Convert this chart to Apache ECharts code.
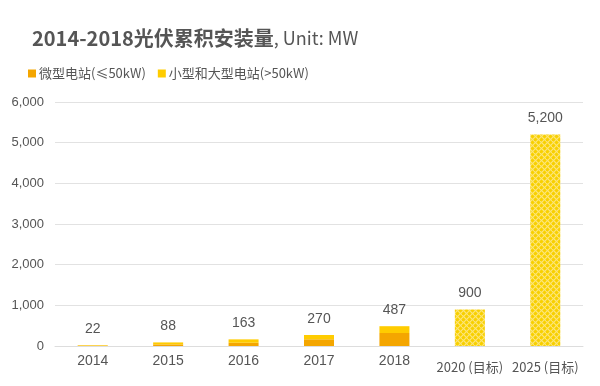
<!DOCTYPE html>
<html><head><meta charset="utf-8">
<script src="https://cdn.jsdelivr.net/npm/echarts@6/dist/echarts.min.js"></script>
<style>html,body{margin:0;padding:0;background:#fff}#c{width:600px;height:386px}</style>
</head><body><div id="c"></div>
<script>
const categories = ['2014','2015','2016','2017','2018','2020 (目标)','2025 (目标)'];
const microValues = [10, 40, 80, 165, 320, 0, 0];
const largeValues = [12, 48, 83, 105, 167, 900, 5200];
const totalLabels = ['22','88','163','270','487','900','5,200'];
const yTicks = [0, 1000, 2000, 3000, 4000, 5000, 6000];
const targetFlags = [false, false, false, false, false, true, true];

// pattern for target bars
const pc = document.createElement('canvas');
pc.width = 6; pc.height = 6;
const g = pc.getContext('2d');
g.fillStyle = '#FCE57A'; g.fillRect(0,0,6,6);
g.fillStyle = '#F8D000';
function dia(cx, cy){ g.beginPath(); g.moveTo(cx, cy-2.2); g.lineTo(cx+2.2, cy); g.lineTo(cx, cy+2.2); g.lineTo(cx-2.2, cy); g.closePath(); g.fill(); }
dia(1.5,1.5); dia(4.5,4.5); dia(1.5,7.5); dia(7.5,1.5); dia(-1.5,4.5); dia(4.5,-1.5);
const patternColor = { image: pc, repeat: 'repeat' };

const ORANGE = '#F4A600', YELLOW = '#FFCC00';

const chart = echarts.init(document.getElementById('c'), null, {renderer:'canvas'});
chart.setOption({
  animation: false,
  title: {
    text: '{b|2014-2018光伏累积安装量}{n|, Unit: MW}',
    left: 27, top: 23,
    textStyle: { rich: {
      b: { fontSize: 20, fontWeight: 'bold', color: '#555', fontFamily: 'Noto Sans CJK SC' },
      n: { fontSize: 18, fontWeight: 'normal', color: '#555', fontFamily: 'Noto Sans CJK SC', padding: [1,0,0,0] }
    } }
  },
  legend: {
    left: 23, top: 62, itemWidth: 8, itemHeight: 8, itemGap: 12,
    icon: 'rect',
    textStyle: { fontSize: 13, color: '#555', fontFamily: 'Noto Sans CJK SC', padding: [0,0,0,-2] },
    data: [{name: '微型电站(≤50kW)', itemStyle: {color: ORANGE}}, {name: '小型和大型电站(>50kW)', itemStyle: {color: YELLOW}}]
  },
  grid: { left: 55, right: 17, top: 102, bottom: 40 },
  xAxis: {
    type: 'category', data: categories,
    axisLine: { lineStyle: { color: '#ddd', width: 1 } },
    axisTick: { show: false },
    axisLabel: {
      color: '#555', fontSize: 14, fontFamily: 'Liberation Sans', margin: 8, interval: 0,
      formatter: function(v, i){ return targetFlags[i] ? '{t|' + v + '}' : v; },
      rich: { t: { fontSize: 13, color: '#555', fontFamily: 'Noto Sans CJK SC', padding: [7,0,0,0] } }
    }
  },
  yAxis: {
    type: 'value', min: 0, max: 6000, interval: 1000,
    axisLine: { show: false }, axisTick: { show: false },
    splitLine: { lineStyle: { color: '#e2e2e2', width: 1 } },
    axisLabel: { color: '#555', fontSize: 13, fontFamily: 'Liberation Sans', margin: 11,
      formatter: function(v){ return yTicks.indexOf(v) >= 0 ? v.toLocaleString('en-US') : ''; } }
  },
  series: [
    { name: '微型电站(≤50kW)', type: 'bar', stack: 's', barWidth: 30,
      itemStyle: { color: ORANGE },
      data: microValues.map(v => v === 0 ? '-' : v) },
    { name: '小型和大型电站(>50kW)', type: 'bar', stack: 's', barWidth: 30,
      itemStyle: { color: YELLOW },
      label: { show: true, position: 'top', distance: 9, color: '#555', fontSize: 14, fontFamily: 'Liberation Sans',
        formatter: p => totalLabels[p.dataIndex] },
      data: largeValues.map((v, i) => targetFlags[i] ? { value: v, itemStyle: { color: patternColor } } : v) }
  ]
});
</script></body></html>
